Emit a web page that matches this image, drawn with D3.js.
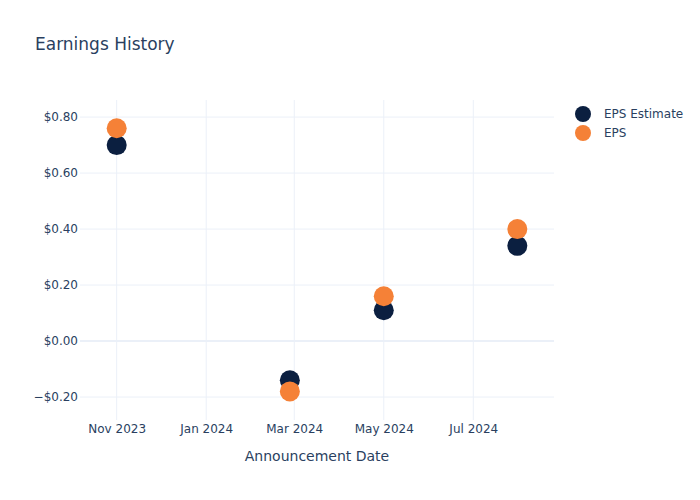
<!DOCTYPE html>
<html>
<head>
<meta charset="utf-8">
<script src="https://cdn.jsdelivr.net/npm/d3@7"></script>
<style>
  body { margin: 0; background: #fff; }
  text { font-family: "DejaVu Sans", Verdana, sans-serif; fill: #2a3f5f; }
</style>
</head>
<body>
<div id="chart"></div>
<script>
'use strict'

// data
const dates = ['2023-11-01', '2024-02-27', '2024-05-01', '2024-07-31']
const epsEstimate = [0.70, -0.14, 0.11, 0.34]
const eps = [0.76, -0.18, 0.16, 0.40]
const yTicks = [-0.2, 0, 0.2, 0.4, 0.6, 0.8]
const xTicks = ['2023-11-01', '2024-01-01', '2024-03-01', '2024-05-01', '2024-07-01']
const seriesNames = ['EPS Estimate', 'EPS']
const seriesColors = ['#0b1f40', '#f58137']

const parse = d3.timeParse('%Y-%m-%d')
const width = 700
const height = 500
const margin = { top: 100, right: 146, bottom: 80, left: 80 }
const innerW = width - margin.left - margin.right
const innerH = height - margin.top - margin.bottom

const svg = d3.select('#chart').append('svg')
  .attr('width', width)
  .attr('height', height)

const g = svg.append('g')
  .attr('transform', 'translate(' + margin.left + ',' + margin.top + ')')

// scales
const x = d3.scaleTime()
  .domain([parse('2023-10-07'), parse('2024-08-25')])
  .range([0, innerW])
const y = d3.scaleLinear()
  .domain([-0.282, 0.861])
  .range([innerH, 0])

// grid
g.append('g').selectAll('line')
  .data(xTicks.map(parse))
  .join('line')
  .attr('x1', d => x(d)).attr('x2', d => x(d))
  .attr('y1', 0).attr('y2', innerH)
  .attr('stroke', '#ebf0f8').attr('stroke-width', 1)

g.append('g').selectAll('line')
  .data(yTicks)
  .join('line')
  .attr('x1', 0).attr('x2', innerW)
  .attr('y1', d => y(d)).attr('y2', d => y(d))
  .attr('stroke', '#ebf0f8')
  .attr('stroke-width', d => d === 0 ? 2 : 1)

// axes
const fmtY = d => (d < 0 ? '\u2212$' : '$') + Math.abs(d).toFixed(2)
const yAxis = g.append('g')
  .call(d3.axisLeft(y).tickValues(yTicks).tickFormat(fmtY).tickSize(0).tickPadding(2))
yAxis.select('.domain').remove()
yAxis.selectAll('text').attr('font-size', 12).style('fill', '#2a3f5f')
  .style('font-family', '"DejaVu Sans", Verdana, sans-serif')

const fmtX = d3.timeFormat('%b %Y')
const xAxis = g.append('g')
  .attr('transform', 'translate(0,' + innerH + ')')
  .call(d3.axisBottom(x).tickValues(xTicks.map(parse)).tickFormat(fmtX).tickSize(0).tickPadding(4))
xAxis.select('.domain').remove()
xAxis.selectAll('text').attr('font-size', 12).style('fill', '#2a3f5f')
  .style('font-family', '"DejaVu Sans", Verdana, sans-serif')

g.append('text')
  .attr('x', innerW / 2)
  .attr('y', innerH + 41)
  .attr('text-anchor', 'middle')
  .attr('font-size', 14)
  .text('Announcement Date')

// points
const series = [epsEstimate, eps]
series.forEach((vals, i) => {
  g.append('g').selectAll('circle')
    .data(vals.map((v, j) => ({ date: parse(dates[j]), value: v })))
    .join('circle')
    .attr('cx', d => x(d.date))
    .attr('cy', d => y(d.value))
    .attr('r', 10)
    .attr('fill', seriesColors[i])
})

// title
svg.append('text')
  .attr('x', 35)
  .attr('y', 50)
  .attr('font-size', 17)
  .text('Earnings History')

// legend
const legend = svg.append('g')
  .attr('transform', 'translate(583,114)')
seriesNames.forEach((name, i) => {
  legend.append('circle')
    .attr('cx', 0).attr('cy', i * 19)
    .attr('r', 8)
    .attr('fill', seriesColors[i])
  legend.append('text')
    .attr('x', 21).attr('y', i * 19 + 4)
    .attr('font-size', 12)
    .text(name)
})
</script>
</body>
</html>
